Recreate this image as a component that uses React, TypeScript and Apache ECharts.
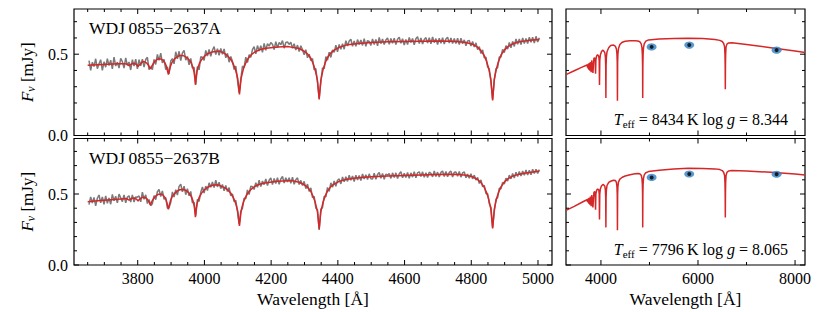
import React, { useEffect, useRef } from 'react';
import * as echarts from 'echarts';

const FONT = '"Liberation Serif", "DejaVu Serif", serif';

// ---------- observed spectra (grey), sampled every 5 Å from 3654 Å ----------
const obsStart = 3654;
const obsStep = 5;
const obsA = [
  0.460, 0.401, 0.451, 0.424, 0.472, 0.411, 0.441, 0.466, 0.401, 0.453,
  0.420, 0.472, 0.430, 0.463, 0.410, 0.482, 0.427, 0.451, 0.415, 0.474,
  0.454, 0.414, 0.477, 0.431, 0.452, 0.403, 0.467, 0.427, 0.469, 0.410,
  0.466, 0.429, 0.470, 0.421, 0.467, 0.481, 0.405, 0.422, 0.405, 0.468,
  0.437, 0.499, 0.462, 0.506, 0.446, 0.468, 0.405, 0.422, 0.380, 0.458,
  0.473, 0.441, 0.515, 0.471, 0.518, 0.460, 0.508, 0.523, 0.463, 0.486,
  0.435, 0.474, 0.414, 0.420, 0.313, 0.424, 0.404, 0.484, 0.481, 0.462,
  0.523, 0.489, 0.529, 0.487, 0.524, 0.547, 0.498, 0.534, 0.493, 0.535,
  0.500, 0.532, 0.478, 0.505, 0.451, 0.486, 0.457, 0.406, 0.427, 0.344,
  0.264, 0.345, 0.426, 0.419, 0.482, 0.448, 0.498, 0.480, 0.528, 0.547,
  0.502, 0.553, 0.519, 0.552, 0.512, 0.567, 0.524, 0.564, 0.550, 0.571,
  0.561, 0.529, 0.577, 0.539, 0.572, 0.559, 0.584, 0.537, 0.572, 0.575,
  0.560, 0.574, 0.537, 0.564, 0.525, 0.556, 0.517, 0.552, 0.527, 0.497,
  0.528, 0.478, 0.500, 0.461, 0.473, 0.404, 0.412, 0.326, 0.230, 0.331,
  0.416, 0.411, 0.486, 0.463, 0.512, 0.480, 0.526, 0.511, 0.555, 0.515,
  0.560, 0.531, 0.564, 0.531, 0.583, 0.551, 0.581, 0.592, 0.549, 0.582,
  0.548, 0.590, 0.559, 0.588, 0.554, 0.595, 0.548, 0.584, 0.578, 0.554,
  0.594, 0.560, 0.591, 0.552, 0.603, 0.565, 0.593, 0.559, 0.587, 0.600,
  0.561, 0.597, 0.567, 0.599, 0.559, 0.592, 0.605, 0.567, 0.595, 0.557,
  0.591, 0.559, 0.603, 0.572, 0.597, 0.558, 0.595, 0.608, 0.566, 0.600,
  0.562, 0.591, 0.602, 0.568, 0.601, 0.564, 0.606, 0.571, 0.596, 0.560,
  0.598, 0.567, 0.602, 0.563, 0.594, 0.604, 0.569, 0.600, 0.565, 0.597,
  0.565, 0.598, 0.560, 0.598, 0.564, 0.588, 0.552, 0.582, 0.584, 0.550,
  0.578, 0.544, 0.570, 0.528, 0.547, 0.504, 0.527, 0.478, 0.482, 0.421,
  0.409, 0.328, 0.224, 0.344, 0.410, 0.418, 0.483, 0.483, 0.530, 0.510,
  0.553, 0.531, 0.572, 0.540, 0.579, 0.548, 0.594, 0.561, 0.593, 0.560,
  0.600, 0.566, 0.596, 0.565, 0.605, 0.573, 0.604, 0.568, 0.610, 0.575,
  0.601,
];
const obsB = [
  0.425, 0.480, 0.437, 0.476, 0.417, 0.470, 0.493, 0.438, 0.479, 0.428,
  0.487, 0.434, 0.473, 0.428, 0.497, 0.452, 0.485, 0.438, 0.499, 0.473,
  0.446, 0.493, 0.438, 0.478, 0.488, 0.444, 0.494, 0.444, 0.479, 0.478,
  0.487, 0.445, 0.513, 0.463, 0.494, 0.433, 0.461, 0.418, 0.432, 0.489,
  0.460, 0.516, 0.532, 0.482, 0.522, 0.463, 0.475, 0.400, 0.405, 0.440,
  0.515, 0.478, 0.530, 0.493, 0.554, 0.569, 0.516, 0.555, 0.495, 0.538,
  0.488, 0.518, 0.438, 0.442, 0.347, 0.462, 0.448, 0.512, 0.549, 0.507,
  0.556, 0.524, 0.579, 0.547, 0.585, 0.545, 0.597, 0.550, 0.583, 0.538,
  0.567, 0.522, 0.560, 0.518, 0.545, 0.487, 0.500, 0.446, 0.455, 0.377,
  0.287, 0.378, 0.398, 0.471, 0.467, 0.529, 0.496, 0.555, 0.551, 0.532,
  0.579, 0.547, 0.597, 0.552, 0.592, 0.566, 0.606, 0.559, 0.597, 0.614,
  0.566, 0.610, 0.574, 0.615, 0.568, 0.606, 0.623, 0.578, 0.615, 0.584,
  0.615, 0.576, 0.619, 0.569, 0.601, 0.614, 0.567, 0.596, 0.560, 0.589,
  0.538, 0.570, 0.519, 0.544, 0.474, 0.484, 0.400, 0.389, 0.247, 0.394,
  0.404, 0.484, 0.480, 0.546, 0.518, 0.579, 0.548, 0.592, 0.555, 0.597,
  0.606, 0.571, 0.620, 0.586, 0.622, 0.589, 0.632, 0.597, 0.627, 0.588,
  0.633, 0.599, 0.631, 0.595, 0.641, 0.606, 0.636, 0.602, 0.642, 0.608,
  0.606, 0.646, 0.604, 0.637, 0.651, 0.611, 0.644, 0.604, 0.640, 0.634,
  0.644, 0.610, 0.649, 0.617, 0.649, 0.609, 0.643, 0.657, 0.615, 0.647,
  0.616, 0.651, 0.610, 0.649, 0.619, 0.657, 0.615, 0.649, 0.656, 0.623,
  0.656, 0.618, 0.649, 0.616, 0.654, 0.646, 0.621, 0.662, 0.624, 0.654,
  0.619, 0.652, 0.662, 0.624, 0.658, 0.621, 0.652, 0.661, 0.619, 0.653,
  0.655, 0.625, 0.658, 0.619, 0.649, 0.655, 0.615, 0.640, 0.612, 0.642,
  0.607, 0.633, 0.598, 0.617, 0.574, 0.600, 0.551, 0.561, 0.502, 0.503,
  0.432, 0.406, 0.265, 0.377, 0.463, 0.474, 0.541, 0.537, 0.582, 0.570,
  0.612, 0.591, 0.633, 0.607, 0.644, 0.613, 0.654, 0.623, 0.658, 0.627,
  0.662, 0.632, 0.669, 0.633, 0.667, 0.636, 0.675, 0.644, 0.675, 0.645,
  0.672,
];

// ---------- best-fit model spectra (red), [wavelength Å, flux mJy] ----------
const modelA: [number, number][] = [
  [3650, 0.432], [3680, 0.435], [3710, 0.438], [3740, 0.441], [3760, 0.442],
  [3766, 0.440], [3770, 0.436], [3774, 0.430], [3778, 0.436], [3783, 0.441],
  [3790, 0.443], [3795, 0.438], [3798, 0.432], [3801, 0.425], [3804, 0.432], [3808, 0.440], [3815, 0.455],
  [3822, 0.452], [3828, 0.443], [3833, 0.430], [3836, 0.418], [3838, 0.410], [3840, 0.418], [3843, 0.430],
  [3848, 0.446], [3855, 0.463], [3862, 0.472], [3870, 0.470],
  [3876, 0.462], [3882, 0.445], [3886, 0.425], [3889, 0.400], [3892, 0.375], [3895, 0.400], [3898, 0.425],
  [3903, 0.450], [3910, 0.470], [3918, 0.484], [3926, 0.492], [3935, 0.492],
  [3940, 0.488], [3948, 0.478], [3955, 0.463], [3961, 0.443], [3966, 0.415], [3969, 0.388], [3971, 0.358],
  [3973, 0.313], [3975, 0.358], [3977, 0.388], [3980, 0.415], [3985, 0.443], [3992, 0.468], [4000, 0.488],
  [4010, 0.503], [4022, 0.513], [4035, 0.517],
  [4045, 0.519], [4060, 0.505], [4070, 0.489], [4080, 0.465], [4087, 0.437], [4093, 0.406], [4097, 0.375],
  [4100, 0.349], [4102, 0.310], [4103.5, 0.281], [4105, 0.253], [4106.5, 0.281], [4108, 0.312], [4110, 0.351],
  [4113, 0.378], [4117, 0.410], [4123, 0.442], [4130, 0.470], [4140, 0.496], [4150, 0.512], [4165, 0.527],
  [4185, 0.537], [4220, 0.545], [4250, 0.548],
  [4264, 0.542], [4284, 0.535], [4299, 0.518], [4309, 0.502], [4319, 0.475], [4326, 0.441], [4332, 0.404],
  [4336, 0.367], [4339, 0.337], [4341, 0.290], [4342.5, 0.256], [4344, 0.222], [4345.5, 0.258], [4347, 0.292],
  [4349, 0.339], [4352, 0.370], [4356, 0.408], [4362, 0.446], [4369, 0.480], [4379, 0.508], [4389, 0.525],
  [4404, 0.542], [4424, 0.556], [4454, 0.565], [4500, 0.572], [4550, 0.576], [4600, 0.578], [4650, 0.580],
  [4700, 0.581], [4740, 0.580],
  [4764, 0.577], [4784, 0.572], [4804, 0.561], [4819, 0.543], [4829, 0.522], [4839, 0.491], [4846, 0.455],
  [4852, 0.414], [4856, 0.374], [4859, 0.341], [4861, 0.290], [4862.5, 0.253], [4864, 0.216], [4865.5, 0.254],
  [4867, 0.292], [4869, 0.344], [4872, 0.376], [4876, 0.416], [4882, 0.457], [4889, 0.494], [4899, 0.525],
  [4909, 0.545], [4924, 0.564], [4944, 0.576], [4964, 0.582], [4985, 0.587], [5004, 0.590],
];
const modelB: [number, number][] = [
  [3650, 0.446], [3680, 0.452], [3710, 0.458], [3740, 0.463], [3760, 0.467],
  [3766, 0.468], [3770, 0.463], [3774, 0.456], [3778, 0.463], [3783, 0.470],
  [3790, 0.472], [3795, 0.466], [3798, 0.459], [3801, 0.451], [3804, 0.459], [3808, 0.468], [3815, 0.478],
  [3822, 0.476], [3828, 0.466], [3833, 0.448], [3836, 0.434], [3838, 0.423], [3840, 0.434], [3843, 0.450],
  [3848, 0.470], [3855, 0.488], [3862, 0.498], [3870, 0.498],
  [3876, 0.492], [3882, 0.474], [3886, 0.452], [3889, 0.424], [3892, 0.392], [3895, 0.424], [3898, 0.452],
  [3903, 0.480], [3910, 0.503], [3918, 0.520], [3926, 0.530], [3935, 0.532],
  [3940, 0.530], [3948, 0.520], [3955, 0.503], [3961, 0.480], [3966, 0.450], [3969, 0.420], [3971, 0.386],
  [3973, 0.336], [3975, 0.386], [3977, 0.420], [3980, 0.450], [3985, 0.480], [3992, 0.508], [4000, 0.530],
  [4010, 0.548], [4022, 0.560], [4035, 0.565],
  [4045, 0.561], [4060, 0.545], [4070, 0.529], [4080, 0.503], [4087, 0.473], [4093, 0.439], [4097, 0.406],
  [4100, 0.378], [4102, 0.336], [4103.5, 0.305], [4105, 0.275], [4106.5, 0.305], [4108, 0.338], [4110, 0.380],
  [4113, 0.410], [4117, 0.444], [4123, 0.477], [4130, 0.506], [4140, 0.533], [4150, 0.553], [4165, 0.569],
  [4185, 0.580], [4220, 0.590], [4250, 0.594],
  [4264, 0.593], [4284, 0.583], [4299, 0.565], [4309, 0.548], [4319, 0.518], [4326, 0.482], [4332, 0.443],
  [4336, 0.404], [4339, 0.373], [4341, 0.324], [4342.5, 0.289], [4344, 0.254], [4345.5, 0.290], [4347, 0.326],
  [4349, 0.375], [4352, 0.406], [4356, 0.446], [4362, 0.486], [4369, 0.522], [4379, 0.552], [4389, 0.570],
  [4404, 0.589], [4424, 0.602], [4454, 0.612], [4500, 0.621], [4550, 0.626], [4600, 0.630], [4650, 0.634],
  [4700, 0.637], [4740, 0.639],
  [4764, 0.638], [4784, 0.632], [4804, 0.621], [4819, 0.602], [4829, 0.580], [4839, 0.547], [4846, 0.509],
  [4852, 0.466], [4856, 0.424], [4859, 0.389], [4861, 0.335], [4862.5, 0.297], [4864, 0.258], [4865.5, 0.298],
  [4867, 0.338], [4869, 0.392], [4872, 0.427], [4876, 0.470], [4882, 0.512], [4889, 0.550], [4899, 0.584],
  [4909, 0.606], [4924, 0.626], [4944, 0.640], [4964, 0.648], [4985, 0.655], [5004, 0.662],
];

// ---------- full model SEDs (right panels) ----------
const sedA: [number, number][] = [
  [3280, 0.374], [3450, 0.398], [3600, 0.419], [3700, 0.432], [3716, 0.435], [3722, 0.418], [3727, 0.438],
  [3734, 0.413], [3740, 0.441], [3750, 0.405], [3758, 0.445], [3771, 0.398], [3782, 0.452], [3798, 0.390],
  [3812, 0.462], [3835, 0.385], [3855, 0.475], [3870, 0.478], [3882, 0.465], [3889, 0.380], [3896, 0.465],
  [3910, 0.488], [3930, 0.497], [3955, 0.488], [3964, 0.460], [3970, 0.310], [3976, 0.460], [3988, 0.495],
  [4010, 0.515], [4035, 0.524], [4050, 0.523], [4080, 0.510], [4092, 0.480], [4098, 0.430], [4102, 0.230],
  [4106, 0.430], [4112, 0.480], [4125, 0.515], [4160, 0.540], [4200, 0.553], [4260, 0.556], [4300, 0.548],
  [4320, 0.530], [4330, 0.500], [4336, 0.450], [4340, 0.213], [4344, 0.450], [4350, 0.500], [4362, 0.535],
  [4390, 0.560], [4440, 0.574], [4500, 0.580], [4600, 0.583], [4700, 0.583], [4760, 0.581], [4800, 0.577],
  [4830, 0.563], [4845, 0.540], [4853, 0.500], [4858, 0.430], [4861, 0.230], [4864, 0.430], [4869, 0.500],
  [4877, 0.540], [4892, 0.563], [4925, 0.580], [4980, 0.588], [5200, 0.594], [5500, 0.597], [5800, 0.598],
  [6100, 0.596], [6350, 0.590], [6450, 0.585], [6500, 0.578], [6530, 0.566], [6548, 0.545], [6556, 0.500],
  [6560, 0.430], [6563, 0.285], [6566, 0.430], [6570, 0.500], [6578, 0.545], [6596, 0.562], [6630, 0.569],
  [6700, 0.570], [7000, 0.560], [7500, 0.540], [8000, 0.520], [8205, 0.511],
];
const sedB: [number, number][] = [
  [3280, 0.385], [3450, 0.413], [3600, 0.440], [3700, 0.458], [3716, 0.461], [3722, 0.445], [3727, 0.465],
  [3734, 0.440], [3740, 0.469], [3750, 0.432], [3758, 0.474], [3771, 0.425], [3782, 0.482], [3798, 0.415],
  [3812, 0.493], [3835, 0.405], [3855, 0.510], [3870, 0.518], [3882, 0.500], [3889, 0.390], [3896, 0.500],
  [3910, 0.525], [3930, 0.535], [3955, 0.530], [3964, 0.500], [3970, 0.320], [3976, 0.500], [3988, 0.535],
  [4010, 0.556], [4035, 0.565], [4050, 0.567], [4080, 0.555], [4092, 0.525], [4098, 0.475], [4102, 0.265],
  [4106, 0.475], [4112, 0.525], [4125, 0.560], [4160, 0.582], [4200, 0.590], [4260, 0.597], [4300, 0.595],
  [4320, 0.580], [4330, 0.550], [4336, 0.500], [4340, 0.245], [4344, 0.500], [4350, 0.550], [4362, 0.585],
  [4390, 0.605], [4440, 0.618], [4500, 0.627], [4600, 0.636], [4700, 0.642], [4760, 0.645], [4800, 0.643],
  [4830, 0.632], [4845, 0.610], [4853, 0.570], [4858, 0.500], [4861, 0.265], [4864, 0.500], [4869, 0.570],
  [4877, 0.610], [4892, 0.635], [4925, 0.650], [4980, 0.658], [5200, 0.668], [5500, 0.677], [5800, 0.681],
  [6100, 0.680], [6350, 0.677], [6450, 0.672], [6500, 0.665], [6530, 0.652], [6548, 0.630], [6556, 0.580],
  [6560, 0.500], [6563, 0.335], [6566, 0.500], [6570, 0.580], [6578, 0.630], [6596, 0.652], [6630, 0.662],
  [6700, 0.665], [7000, 0.662], [7500, 0.653], [8000, 0.641], [8205, 0.634],
];

// ---------- photometry ----------
const photWave = [5045, 5820, 7620];
const photA = [0.545, 0.556, 0.525];
const photB = [0.617, 0.641, 0.639];

// ---------- axes / ticks ----------
const leftX: [number, number] = [3609, 5042];
const rightX: [number, number] = [3280, 8205];
const topYMax = 0.778;
const botYMax = 0.891;
const leftXMajor = [3800, 4000, 4200, 4400, 4600, 4800, 5000];
const leftXMinor = [3650, 3700, 3750, 3850, 3900, 3950, 4050, 4100, 4150, 4250, 4300, 4350, 4450, 4500, 4550, 4650, 4700, 4750, 4850, 4900, 4950];
const rightXMajor = [4000, 6000, 8000];
const rightXMinor = [5000, 7000];
const yMajor = [0, 0.5];
const yMinorTop = [0.1, 0.2, 0.3, 0.4, 0.6, 0.7];
const yMinorBot = [0.1, 0.2, 0.3, 0.4, 0.6, 0.7, 0.8];

const titleA = 'WDJ\u20090855\u22122637A';
const titleB = 'WDJ\u20090855\u22122637B';
const paramsA = '{i|T}{s|eff} = 8434\u2009K log {i|g} = 8.344';
const paramsB = '{i|T}{s|eff} = 7796\u2009K log {i|g} = 8.065';

const MAJ = 5;
const MIN = 3;

function tickSeries(idx: number, xr: [number, number], yMax: number, xMaj: number[], xMin: number[], yMinor: number[]) {
  const data: number[][] = [];
  xMaj.forEach((v) => data.push([v, 0, MAJ, 0]));
  xMin.forEach((v) => data.push([v, 0, MIN, 0]));
  yMajor.forEach((v) => data.push([xr[0], v, MAJ, 1]));
  yMinor.forEach((v) => data.push([xr[0], v, MIN, 1]));
  return {
    type: 'custom',
    xAxisIndex: idx,
    yAxisIndex: idx,
    clip: false,
    silent: true,
    z: 10,
    encode: { x: 0, y: 1 },
    data,
    renderItem: (_p: any, api: any) => {
      const a = api.value(0);
      const b = api.value(1);
      const len = api.value(2);
      const kind = api.value(3);
      const style = { stroke: '#000', lineWidth: 1 };
      if (kind === 0) {
        const p0 = api.coord([a, 0]);
        const p1 = api.coord([a, yMax]);
        return {
          type: 'group',
          children: [
            { type: 'line', shape: { x1: p0[0], y1: p0[1], x2: p0[0], y2: p0[1] - len }, style },
            { type: 'line', shape: { x1: p1[0], y1: p1[1], x2: p1[0], y2: p1[1] + len }, style },
          ],
        };
      }
      const q0 = api.coord([xr[0], b]);
      const q1 = api.coord([xr[1], b]);
      return {
        type: 'group',
        children: [
          { type: 'line', shape: { x1: q0[0], y1: q0[1], x2: q0[0] + len, y2: q0[1] }, style },
          { type: 'line', shape: { x1: q1[0], y1: q1[1], x2: q1[0] - len, y2: q1[1] }, style },
        ],
      };
    },
  };
}

const richName = {
  i: { fontStyle: 'italic', fontSize: 17, fontFamily: FONT, lineHeight: 20, color: '#000' },
  s: { fontStyle: 'italic', fontSize: 12, fontFamily: FONT, verticalAlign: 'bottom', lineHeight: 12, color: '#000' },
};
const richParams = {
  i: { fontStyle: 'italic', fontSize: 16, fontFamily: FONT, lineHeight: 20, color: '#000' },
  s: { fontSize: 11, fontFamily: FONT, verticalAlign: 'bottom', lineHeight: 12, color: '#000' },
};

function xAxisCfg(idx: number, xr: [number, number], step: number, split: number, showLabels: boolean) {
  return {
    type: 'value',
    gridIndex: idx,
    min: xr[0],
    max: xr[1],
    minInterval: step,
    maxInterval: step,
    splitNumber: split,
    axisLine: { show: false },
    axisTick: { show: false },
    splitLine: { show: false },
    axisLabel: {
      show: showLabels,
      showMinLabel: false,
      showMaxLabel: false,
      color: '#000',
      fontSize: 16,
      fontFamily: FONT,
      margin: 5,
      formatter: (v: number) => String(Math.round(v)),
    },
    name: showLabels ? 'Wavelength [Å]' : '',
    nameLocation: 'middle',
    nameGap: 25,
    nameTextStyle: { color: '#000', fontSize: 17.5, fontFamily: FONT },
  };
}

function yAxisCfg(idx: number, yMax: number, showLabels: boolean) {
  return {
    type: 'value',
    gridIndex: idx,
    min: 0,
    max: yMax,
    interval: 0.5,
    axisLine: { show: false },
    axisTick: { show: false },
    splitLine: { show: false },
    axisLabel: {
      show: showLabels,
      showMaxLabel: false,
      color: '#000',
      fontSize: 16,
      fontFamily: FONT,
      margin: 6,
      formatter: (v: number) => v.toFixed(1),
    },
    name: showLabels ? '{i|F}{s|ν} [mJy]' : '',
    nameLocation: 'middle',
    nameGap: 21,
    nameTextStyle: { color: '#000', fontSize: 17, fontFamily: FONT, lineHeight: 20, rich: richName },
  };
}

function photSeries(idx: number, vals: number[]) {
  const d = photWave.map((w, i) => [w, vals[i]]);
  return [
    {
      type: 'scatter', xAxisIndex: idx, yAxisIndex: idx, data: d, symbol: 'circle',
      symbolSize: [10, 7], itemStyle: { color: '#2f80c4' }, z: 4, silent: true,
    },
    {
      type: 'scatter', xAxisIndex: idx, yAxisIndex: idx, data: d, symbol: 'circle',
      symbolSize: 4, itemStyle: { color: '#000' }, z: 5, silent: true,
    },
  ];
}

export default function App() {
  const ref = useRef<HTMLDivElement>(null);
  useEffect(() => {
    if (!ref.current) return;
    const chart = echarts.init(ref.current, null, { renderer: 'svg' });
    const obsDataA = obsA.map((v, i) => [obsStart + obsStep * i, v]);
    const obsDataB = obsB.map((v, i) => [obsStart + obsStep * i, v]);
    const gridBase = { show: true, borderColor: '#000', borderWidth: 1.2, backgroundColor: 'transparent' };
    const grey = { color: '#7a7a7a', width: 1.5 };
    const red = { color: '#d62728', width: 1.5 };
    chart.setOption({
      animation: false,
      textStyle: { fontFamily: FONT },
      grid: [
        { ...gridBase, left: 74, top: 9, width: 478, height: 126.5 },
        { ...gridBase, left: 566, top: 9, width: 239, height: 126.5 },
        { ...gridBase, left: 74, top: 138.5, width: 478, height: 126.5 },
        { ...gridBase, left: 566, top: 138.5, width: 239, height: 126.5 },
      ],
      xAxis: [
        xAxisCfg(0, leftX, 200, 7, false),
        xAxisCfg(1, rightX, 2000, 3, false),
        xAxisCfg(2, leftX, 200, 7, true),
        xAxisCfg(3, rightX, 2000, 3, true),
      ],
      yAxis: [
        yAxisCfg(0, topYMax, true),
        yAxisCfg(1, topYMax, false),
        yAxisCfg(2, botYMax, true),
        yAxisCfg(3, botYMax, false),
      ],
      series: [
        { type: 'line', xAxisIndex: 0, yAxisIndex: 0, data: obsDataA, showSymbol: false, symbol: 'none', lineStyle: grey, z: 2, silent: true },
        { type: 'line', xAxisIndex: 0, yAxisIndex: 0, data: modelA, showSymbol: false, symbol: 'none', lineStyle: red, z: 3, silent: true },
        { type: 'line', xAxisIndex: 2, yAxisIndex: 2, data: obsDataB, showSymbol: false, symbol: 'none', lineStyle: grey, z: 2, silent: true },
        { type: 'line', xAxisIndex: 2, yAxisIndex: 2, data: modelB, showSymbol: false, symbol: 'none', lineStyle: red, z: 3, silent: true },
        { type: 'line', xAxisIndex: 1, yAxisIndex: 1, data: sedA, showSymbol: false, symbol: 'none', lineStyle: red, z: 3, silent: true },
        { type: 'line', xAxisIndex: 3, yAxisIndex: 3, data: sedB, showSymbol: false, symbol: 'none', lineStyle: red, z: 3, silent: true },
        ...photSeries(1, photA),
        ...photSeries(3, photB),
        tickSeries(0, leftX, topYMax, leftXMajor, leftXMinor, yMinorTop),
        tickSeries(1, rightX, topYMax, rightXMajor, rightXMinor, yMinorTop),
        tickSeries(2, leftX, botYMax, leftXMajor, leftXMinor, yMinorBot),
        tickSeries(3, rightX, botYMax, rightXMajor, rightXMinor, yMinorBot),
      ],
      graphic: [
        { type: 'text', x: 89, y: 28, style: { text: titleA, fill: '#000', font: `17.5px ${FONT}`, verticalAlign: 'middle' } },
        { type: 'text', x: 89, y: 158, style: { text: titleB, fill: '#000', font: `17.5px ${FONT}`, verticalAlign: 'middle' } },
        {
          type: 'text', x: 788, y: 119,
          style: { text: paramsA, fill: '#000', font: `16px ${FONT}`, align: 'right', verticalAlign: 'middle', rich: richParams },
        },
        {
          type: 'text', x: 788, y: 249,
          style: { text: paramsB, fill: '#000', font: `16px ${FONT}`, align: 'right', verticalAlign: 'middle', rich: richParams },
        },
      ],
    });
    return () => chart.dispose();
  }, []);
  return <div ref={ref} style={{ position: 'absolute', left: 0, top: 0, width: 830, height: 312 }} />;
}
